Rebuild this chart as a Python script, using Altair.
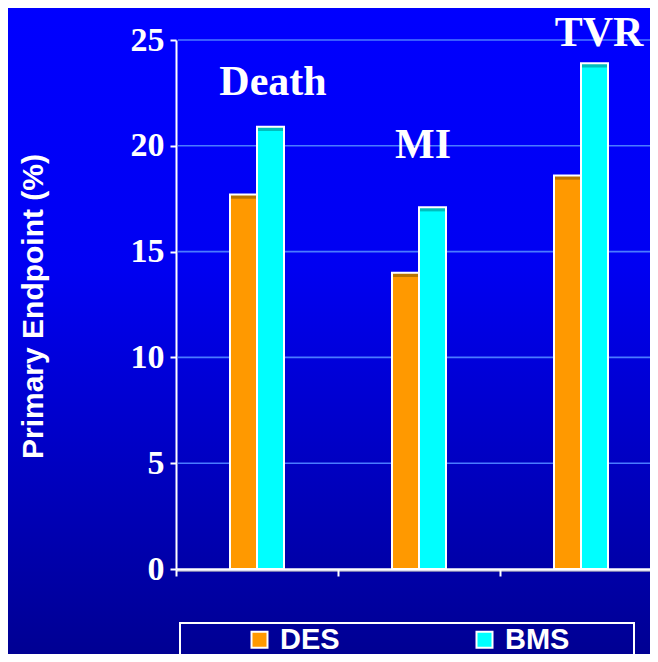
import altair as alt
import pandas as pd

categories = ["Death", "MI", "TVR"]
series = ["DES", "BMS"]
des_values = [17.7, 14.0, 18.6]
bms_values = [20.9, 17.1, 23.9]
series_colors = ["#FF9900", "#00FFFF"]
cap_colors = ["#B87400", "#00BDBD"]
y_ticks = [0, 5, 10, 15, 20, 25]
grid_ticks = [5, 10, 15, 20, 25]
label_y = [22.4, 19.4, 24.7]
label_dx = [16, 4, 18]
y_title = "Primary Endpoint (%)"
# empty slots either side of the two bars within each category band
offset_slots = ["_l2", "_l1"] + series + ["_r1", "_r2"]

rows = []
for i, c in enumerate(categories):
    rows.append({"category": c, "series": series[0], "value": des_values[i]})
    rows.append({"category": c, "series": series[1], "value": bms_values[i]})
df = pd.DataFrame(rows)
one = pd.DataFrame({"k": [0]})
grid_df = pd.DataFrame({"value": grid_ticks})

yscale = alt.Scale(domain=[0, 25], nice=False, zero=True)
xscale = alt.Scale(paddingInner=0, paddingOuter=0)
xoff = alt.XOffset("series:N", scale=alt.Scale(domain=offset_slots, paddingOuter=0, paddingInner=0))

x_axis = alt.Axis(labels=False, title=None, bandPosition=0, domainColor="white",
                  domainWidth=2.5, tickColor="white", tickWidth=2, tickSize=7,
                  grid=False, zindex=1)
y_axis = alt.Axis(values=y_ticks, title=y_title, grid=False, zindex=1,
                  domainColor="white", domainWidth=2, tickColor="white", tickWidth=2,
                  tickSize=6, labelPadding=6, labelColor="white",
                  labelFont="Liberation Serif", labelFontWeight="bold", labelFontSize=34,
                  titleFont="Liberation Sans", titleFontWeight="bold", titleFontSize=30,
                  titleColor="white", titleAngle=-90, titleX=-143, titleY=266,
                  titleAlign="center", titleBaseline="middle")

X = alt.X("category:N", sort=categories, scale=xscale, axis=x_axis)
Y = alt.Y("value:Q", scale=yscale, axis=y_axis)

bg = alt.Chart(one).mark_rect(
    fill=alt.Gradient(
        gradient="linear",
        stops=[alt.GradientStop(color="#0000FF", offset=0),
               alt.GradientStop(color="#0000F2", offset=0.4),
               alt.GradientStop(color="#000090", offset=1)],
        x1=0, x2=0, y1=0, y2=1),
).encode(x=alt.value(-175), x2=alt.value(500), y=alt.value(-40), y2=alt.value(625))

grid = alt.Chart(grid_df).mark_rule(color="#4A7BFF", strokeWidth=1.6).encode(
    y=Y, x=alt.value(2), x2=alt.value(486))

base_line = alt.Chart(one).mark_rule(color="#A0A0B8", strokeWidth=1.5).encode(
    x=alt.value(1), x2=alt.value(486), y=alt.value(531))

bars = alt.Chart(df).mark_bar(strokeWidth=0).encode(
    x=X,
    xOffset=xoff,
    y=Y,
    color=alt.Color("series:N", sort=series,
                    scale=alt.Scale(domain=series, range=series_colors),
                    legend=alt.Legend(orient="none", legendX=69, legendY=585,
                                      direction="horizontal", title=None,
                                      symbolType="square", symbolSize=256,
                                      symbolStrokeColor="white", symbolStrokeWidth=2,
                                      symbolOpacity=1,
                                      labelFont="Liberation Sans", labelFontWeight="bold",
                                      labelFontSize=29, labelColor="white",
                                      labelOffset=6, columnPadding=130, padding=0,
                                      zindex=1)),
)

caps = alt.Chart(df).transform_calculate(cap_bottom="datum.value - 0.2").mark_bar(
    strokeWidth=0).encode(
    x=X,
    xOffset=xoff,
    y=Y,
    y2="cap_bottom:Q",
    fill=alt.Fill("series:N", sort=series,
                  scale=alt.Scale(domain=series, range=cap_colors), legend=None),
)

outline = alt.Chart(df).mark_bar(fillOpacity=0, stroke="white", strokeWidth=2).encode(
    x=X,
    xOffset=xoff,
    y=Y,
)

texts = []
for i, c in enumerate(categories):
    tdf = pd.DataFrame({"category": [c], "value": [label_y[i]]})
    texts.append(alt.Chart(tdf).mark_text(
        dx=label_dx[i], font="Liberation Serif", fontWeight="bold", fontSize=42,
        color="white", baseline="alphabetic", align="center").encode(
        x=X,
        y=Y,
        text="category:N"))

legend_box = alt.Chart(one).mark_rect(fillOpacity=0, stroke="white", strokeWidth=2).encode(
    x=alt.value(4), x2=alt.value(458), y=alt.value(583), y2=alt.value(640))

chart = alt.layer(bg, grid, base_line, bars, caps, outline, *texts, legend_box).resolve_scale(
    color="independent", fill="independent").properties(
    width=486, height=529,
    autosize=alt.AutoSizeParams(type="none"),
    padding={"left": 168, "top": 32, "right": -12, "bottom": 85},
    background="#000090",
).configure_view(stroke=None)

chart.save("out.html", embed_options={"renderer": "svg", "actions": False})
